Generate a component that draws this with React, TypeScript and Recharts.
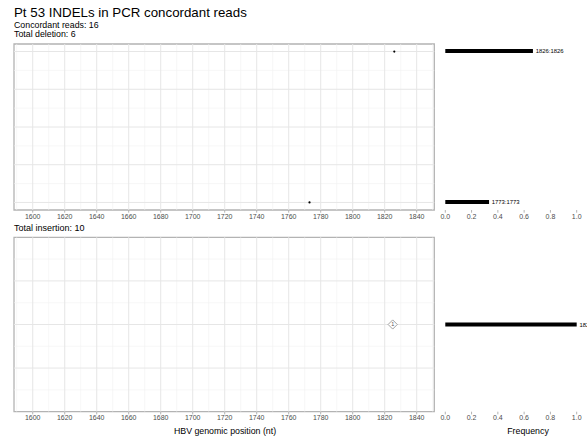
import React from 'react';
import {
  ScatterChart,
  Scatter,
  ComposedChart,
  Bar,
  LabelList,
  XAxis,
  YAxis,
  ReferenceLine,
  ReferenceArea,
} from 'recharts';

// ---------------------------------------------------------------------------
// Data
// ---------------------------------------------------------------------------

const posTicks = [1600, 1620, 1640, 1660, 1680, 1700, 1720, 1740, 1760, 1780, 1800, 1820, 1840];
const posMinor = [1590, 1610, 1630, 1650, 1670, 1690, 1710, 1730, 1750, 1770, 1790, 1810, 1830, 1850];
const freqTicks = [0, 0.2, 0.4, 0.6, 0.8, 1.0];

// deletions
const delPos = [1826, 1773];
const delRow = [1, 0];
const delFreq = [0.667, 0.333];
const delLabel = ['1826:1826', '1773:1773'];
const delRowMajor = [0, 0.25, 0.5, 0.75, 1];
const delRowMinor = [0.125, 0.375, 0.625, 0.875];

// insertions
const insPos = [1825];
const insRow = [1];
const insCount = ['1'];
const insFreq = [1.0];
const insLabel = ['1825:1825'];
const insRowMajor = [0.75, 1, 1.25];
const insRowMinor = [0.625, 0.875, 1.125, 1.375];

// ---------------------------------------------------------------------------
// Styling
// ---------------------------------------------------------------------------

const FONT = '"Liberation Sans", Arial, Helvetica, sans-serif';
const POS_DOMAIN: [number, number] = [1588.3, 1851];
const GRID_MAJOR = '#e6e6e6';
const GRID_MINOR = '#f1f1f1';
const BORDER = '#b3b3b3';
const AXIS_TEXT = '#4d4d4d';

const tickStyle = { fontSize: 7, fill: AXIS_TEXT };

// ---------------------------------------------------------------------------
// Shapes
// ---------------------------------------------------------------------------

const Dot = (props: any) => <circle cx={props.cx} cy={props.cy} r={1.1} fill="#000" />;

const Diamond = (props: any) => {
  const { cx, cy, payload } = props;
  const s = 4.6;
  return (
    <g>
      <polygon
        points={`${cx},${cy - s} ${cx + s},${cy} ${cx},${cy + s} ${cx - s},${cy}`}
        fill="#fff"
        stroke="#8a8a8a"
        strokeWidth={0.8}
      />
      <text x={cx} y={cy + 2} textAnchor="middle" fontSize={5.5} fill="#555">
        {payload.count}
      </text>
    </g>
  );
};

// ---------------------------------------------------------------------------
// Panels
// ---------------------------------------------------------------------------

interface PanelProps {
  plotTop: number;
  plotBottom: number;
  rowDomain: [number, number];
  rowMajor: number[];
  rowMinor: number[];
  data: any[];
  shape: any;
}

function PositionPanel({ plotTop, plotBottom, rowDomain, rowMajor, rowMinor, data, shape }: PanelProps) {
  return (
    <div style={{ position: 'absolute', left: 0, top: 0 }}>
      <ScatterChart
        width={440}
        height={plotBottom + 15}
        margin={{ top: plotTop, right: 5.7, left: 14, bottom: 0 }}
      >
        <XAxis
          type="number"
          dataKey="pos"
          domain={POS_DOMAIN}
          ticks={posTicks}
          allowDataOverflow
          axisLine={false}
          tickLine={{ stroke: BORDER }}
          tickSize={2.7}
          tickMargin={1}
          tick={tickStyle}
          height={15}
          interval={0}
        />
        <YAxis type="number" dataKey="row" domain={rowDomain} hide allowDataOverflow />
        {posMinor.map((v) => (
          <ReferenceLine key={`xm${v}`} x={v} stroke={GRID_MINOR} strokeWidth={0.6} />
        ))}
        {rowMinor.map((v) => (
          <ReferenceLine key={`ym${v}`} y={v} stroke={GRID_MINOR} strokeWidth={0.6} />
        ))}
        {posTicks.map((v) => (
          <ReferenceLine key={`xM${v}`} x={v} stroke={GRID_MAJOR} strokeWidth={1} />
        ))}
        {rowMajor.map((v) => (
          <ReferenceLine key={`yM${v}`} y={v} stroke={GRID_MAJOR} strokeWidth={1} />
        ))}
        <ReferenceArea
          x1={POS_DOMAIN[0]}
          x2={POS_DOMAIN[1]}
          y1={rowDomain[0]}
          y2={rowDomain[1]}
          fill="none"
          fillOpacity={0}
          stroke={BORDER}
          strokeWidth={1.3}
        />
        <Scatter data={data} shape={shape} isAnimationActive={false} />
      </ScatterChart>
    </div>
  );
}

function FrequencyPanel({ plotTop, plotBottom, rowDomain, data }: Omit<PanelProps, 'rowMajor' | 'rowMinor' | 'shape'>) {
  return (
    <div style={{ position: 'absolute', left: 0, top: 0 }}>
      <ComposedChart
        layout="vertical"
        width={587}
        height={plotBottom + 15}
        data={data}
        margin={{ top: plotTop, right: 10.3, left: 445.3, bottom: 0 }}
      >
        <XAxis
          type="number"
          dataKey="freq"
          domain={[0, 1]}
          ticks={freqTicks}
          tickFormatter={(v: number) => v.toFixed(1)}
          axisLine={false}
          tickLine={{ stroke: BORDER }}
          tickSize={2.7}
          tickMargin={1}
          tick={tickStyle}
          height={15}
          interval={0}
        />
        <YAxis type="number" dataKey="row" domain={rowDomain} hide allowDataOverflow reversed />
        <Bar dataKey="freq" fill="#000" barSize={4} isAnimationActive={false}>
          <LabelList dataKey="label" position="right" offset={2.7} fontSize={5.9} fill="#000" />
        </Bar>
      </ComposedChart>
    </div>
  );
}

// ---------------------------------------------------------------------------
// App
// ---------------------------------------------------------------------------

export default function App() {
  const delPoints = delPos.map((p, i) => ({ pos: p, row: delRow[i] }));
  const delBars = delFreq.map((f, i) => ({ row: delRow[i], freq: f, label: delLabel[i] }));
  const insPoints = insPos.map((p, i) => ({ pos: p, row: insRow[i], count: insCount[i] }));
  const insBars = insFreq.map((f, i) => ({ row: insRow[i], freq: f, label: insLabel[i] }));

  return (
    <div
      style={{
        position: 'absolute',
        left: 0,
        top: 0,
        width: 587,
        height: 441,
        overflow: 'hidden',
        background: '#fff',
        fontFamily: FONT,
      }}
    >
      <PositionPanel
        plotTop={44}
        plotBottom={210}
        rowDomain={[-0.05, 1.05]}
        rowMajor={delRowMajor}
        rowMinor={delRowMinor}
        data={delPoints}
        shape={Dot}
      />
      <FrequencyPanel plotTop={44} plotBottom={210} rowDomain={[-0.05, 1.05]} data={delBars} />
      <PositionPanel
        plotTop={237.3}
        plotBottom={411.7}
        rowDomain={[0.5, 1.5]}
        rowMajor={insRowMajor}
        rowMinor={insRowMinor}
        data={insPoints}
        shape={Diamond}
      />
      <FrequencyPanel plotTop={237.3} plotBottom={411.7} rowDomain={[0.5, 1.5]} data={insBars} />

      <svg
        width={587}
        height={441}
        style={{ position: 'absolute', left: 0, top: 0, pointerEvents: 'none' }}
      >
        <text x={14} y={17} fontSize={13.3} fill="#000">
          Pt 53 INDELs in PCR concordant reads
        </text>
        <text x={14} y={27.6} fontSize={8.8} fill="#000">
          Concordant reads: 16
        </text>
        <text x={14} y={36.8} fontSize={8.8} fill="#000">
          Total deletion: 6
        </text>
        <text x={14} y={230.5} fontSize={9} fill="#000">
          Total insertion: 10
        </text>
        <text x={225} y={434} fontSize={8.8} textAnchor="middle" fill="#000">
          HBV genomic position (nt)
        </text>
        <text x={528} y={434} fontSize={8.8} textAnchor="middle" fill="#000">
          Frequency
        </text>
      </svg>
    </div>
  );
}
